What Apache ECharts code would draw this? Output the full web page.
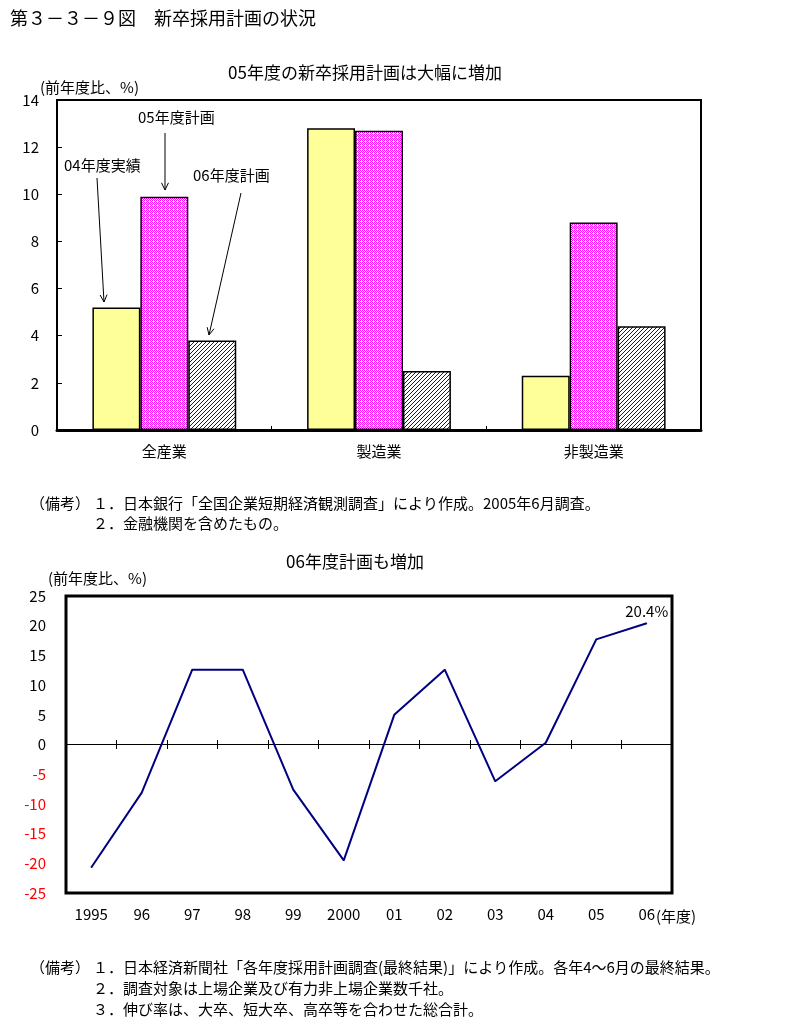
<!DOCTYPE html>
<html><head><meta charset="utf-8">
<script src="https://cdn.jsdelivr.net/npm/echarts@6/dist/echarts.min.js"></script>
<style>html,body{margin:0;padding:0;background:#fff}#c{width:790px;height:1026px}</style>
</head><body><div id="c"></div>
<script>
// ---- data ----
const barCategories = ['全産業', '製造業', '非製造業'];
const actual04 = [5.2, 12.8, 2.3];   // 04年度実績
const plan05 = [9.9, 12.7, 8.8];     // 05年度計画
const plan06 = [3.8, 2.5, 4.4];      // 06年度計画
const barAxis = { min: 0, max: 14, interval: 2 };

const years = ['1995', '96', '97', '98', '99', '2000', '01', '02', '03', '04', '05', '06'];
const growth = [-20.7, -8.1, 12.6, 12.6, -7.6, -19.5, 5.0, 12.6, -6.2, 0.3, 17.7, 20.4];
const lineAxis = { min: -25, max: 25, interval: 5 };

const FONT = '"Noto Sans CJK JP", "Noto Sans", sans-serif';

// ---- patterns ----
function pinkPattern() {
  const c = document.createElement('canvas'); c.width = 4; c.height = 4;
  const g = c.getContext('2d');
  g.fillStyle = '#ffffff'; g.fillRect(0, 0, 4, 4);
  g.fillStyle = '#ff00ff';
  for (let y = 0; y < 4; y++) for (let x = 0; x < 4; x++) if ((x + y) % 2 === 0) g.fillRect(x, y, 1, 1);
  g.fillStyle = '#ffffff'; g.fillRect(1, 1, 1, 1);
  return c;
}
function hatchPattern() {
  const c = document.createElement('canvas'); c.width = 4; c.height = 4;
  const g = c.getContext('2d');
  g.fillStyle = '#ffffff'; g.fillRect(0, 0, 4, 4);
  g.fillStyle = '#0000ff';
  for (let y = 0; y < 4; y++) for (let x = 0; x < 4; x++) if ((x + y) % 4 === 3) g.fillRect(x, y, 1, 1);
  return c;
}

// ---- annotation arrows ----
function arrow(x1, y1, x2, y2) {
  const a = Math.atan2(y2 - y1, x2 - x1), L = 8, w = 0.45;
  const p1 = [x2 - L * Math.cos(a - w), y2 - L * Math.sin(a - w)];
  const p2 = [x2 - L * Math.cos(a + w), y2 - L * Math.sin(a + w)];
  return [
    { type: 'line', shape: { x1, y1, x2, y2 }, style: { stroke: '#000', lineWidth: 1 } },
    { type: 'polyline', shape: { points: [p1, [x2, y2], p2] }, style: { stroke: '#000', lineWidth: 1, fill: null } }
  ];
}
function txt(x, y, s, size, opts) {
  return { type: 'text', x, y, style: Object.assign({ text: s, font: size + 'px ' + FONT, fill: '#000', textVerticalAlign: 'middle' }, opts || {}) };
}

const chart = echarts.init(document.getElementById('c'), null, { renderer: 'canvas' });

// line-chart plot rectangle; the zero-line ticks use a thin band grid around its middle
const G2 = { left: 66, top: 596, width: 606, height: 297 };
const zeroY = G2.top + G2.height / 2;

const lastIdx = growth.length - 1;
const option = {
  animation: false,
  backgroundColor: '#fff',
  textStyle: { fontFamily: FONT },
  grid: [
    { left: 57, top: 100, width: 644, height: 330, show: true, borderColor: '#000', borderWidth: 2, backgroundColor: 'transparent' },
    { left: G2.left, top: G2.top, width: G2.width, height: G2.height, show: true, borderColor: '#000', borderWidth: 3, backgroundColor: 'transparent' },
    { left: G2.left, top: zeroY - 4.5, width: G2.width, height: 9, show: false }
  ],
  xAxis: [
    { type: 'category', gridIndex: 0, data: barCategories, boundaryGap: true,
      axisLine: { show: true, lineStyle: { color: '#000', width: 3 } },
      axisTick: { show: true, inside: true, length: 4, lineStyle: { color: '#000', width: 1 } },
      axisLabel: { color: '#000', fontSize: 15, margin: 14 } },
    { type: 'category', gridIndex: 1, data: years, boundaryGap: true, position: 'bottom',
      axisLine: { show: false, onZero: false },
      axisTick: { show: false },
      axisLabel: { color: '#000', fontSize: 15, margin: 14 } },
    { type: 'category', gridIndex: 2, data: years, boundaryGap: true, position: 'bottom',
      axisLine: { show: false, onZero: false },
      axisTick: { show: true, inside: true, length: 9, lineStyle: { color: '#000', width: 1 } },
      axisLabel: { show: false } }
  ],
  yAxis: [
    { type: 'value', gridIndex: 0, min: barAxis.min, max: barAxis.max, interval: barAxis.interval,
      splitLine: { show: false },
      axisLine: { show: true, lineStyle: { color: '#000', width: 2 } },
      axisTick: { show: true, inside: true, length: 5, lineStyle: { color: '#000', width: 1 } },
      axisLabel: { color: '#000', fontSize: 15, margin: 18 } },
    { type: 'value', gridIndex: 1, min: lineAxis.min, max: lineAxis.max, interval: lineAxis.interval,
      splitLine: { show: false },
      axisLine: { show: false },
      axisTick: { show: false },
      axisLabel: { fontSize: 15, margin: 20, color: v => (v < 0 ? '#ff0000' : '#000') } },
    { type: 'value', gridIndex: 2, show: false, min: 0, max: 1 }
  ],
  series: [
    { name: '04年度実績', type: 'bar', xAxisIndex: 0, yAxisIndex: 0, data: actual04,
      barGap: '0%', barCategoryGap: '33%',
      itemStyle: { color: '#ffff99', borderColor: '#000', borderWidth: 1.5 } },
    { name: '05年度計画', type: 'bar', xAxisIndex: 0, yAxisIndex: 0, data: plan05,
      barGap: '0%', barCategoryGap: '33%',
      itemStyle: { color: { image: pinkPattern(), repeat: 'repeat' }, borderColor: '#000', borderWidth: 1.5 } },
    { name: '06年度計画', type: 'bar', xAxisIndex: 0, yAxisIndex: 0, data: plan06,
      barGap: '0%', barCategoryGap: '33%',
      itemStyle: { color: { image: hatchPattern(), repeat: 'repeat' }, borderColor: '#000', borderWidth: 1.5 } },
    { name: '新卒採用計画', type: 'line', xAxisIndex: 1, yAxisIndex: 1,
      data: growth.map((v, i) => i === lastIdx
        ? { value: v, label: { show: true, position: 'top', distance: 4, formatter: v.toFixed(1) + '%', color: '#000', fontSize: 15 } }
        : v),
      symbol: 'circle', symbolSize: 1, showSymbol: true,
      itemStyle: { color: '#000080' },
      lineStyle: { color: '#000080', width: 2 }, z: 5,
      markLine: { silent: true, symbol: 'none', label: { show: false },
        lineStyle: { color: '#000', width: 1, type: 'solid' },
        data: [{ yAxis: 0 }] } }
  ],
  graphic: [
    txt(10, 18, '第３－３－９図　新卒採用計画の状況', 18),
    txt(365, 73, '05年度の新卒採用計画は大幅に増加', 17, { textAlign: 'center' }),
    txt(40, 87, '(前年度比、%)', 15),
    txt(64, 165, '04年度実績', 15),
    txt(138, 117, '05年度計画', 15),
    txt(193, 175, '06年度計画', 15),
    ...arrow(97, 178, 104, 302),
    ...arrow(165, 133, 165, 190),
    ...arrow(241, 193, 209, 335),
    txt(30, 503, '（備考）', 15),
    txt(93, 503, '１．日本銀行「全国企業短期経済観測調査」により作成。2005年6月調査。', 15),
    txt(93, 523, '２．金融機関を含めたもの。', 15),
    txt(355, 562, '06年度計画も増加', 17, { textAlign: 'center' }),
    txt(48, 578, '(前年度比、%)', 15),
    txt(656, 916, '(年度)', 15),
    txt(30, 967, '（備考）', 15),
    txt(93, 967, '１．日本経済新聞社「各年度採用計画調査(最終結果)」により作成。各年4～6月の最終結果。', 15),
    txt(93, 988, '２．調査対象は上場企業及び有力非上場企業数千社。', 15),
    txt(93, 1009, '３．伸び率は、大卒、短大卒、高卒等を合わせた総合計。', 15)
  ]
};
chart.setOption(option);
</script>
</body></html>
